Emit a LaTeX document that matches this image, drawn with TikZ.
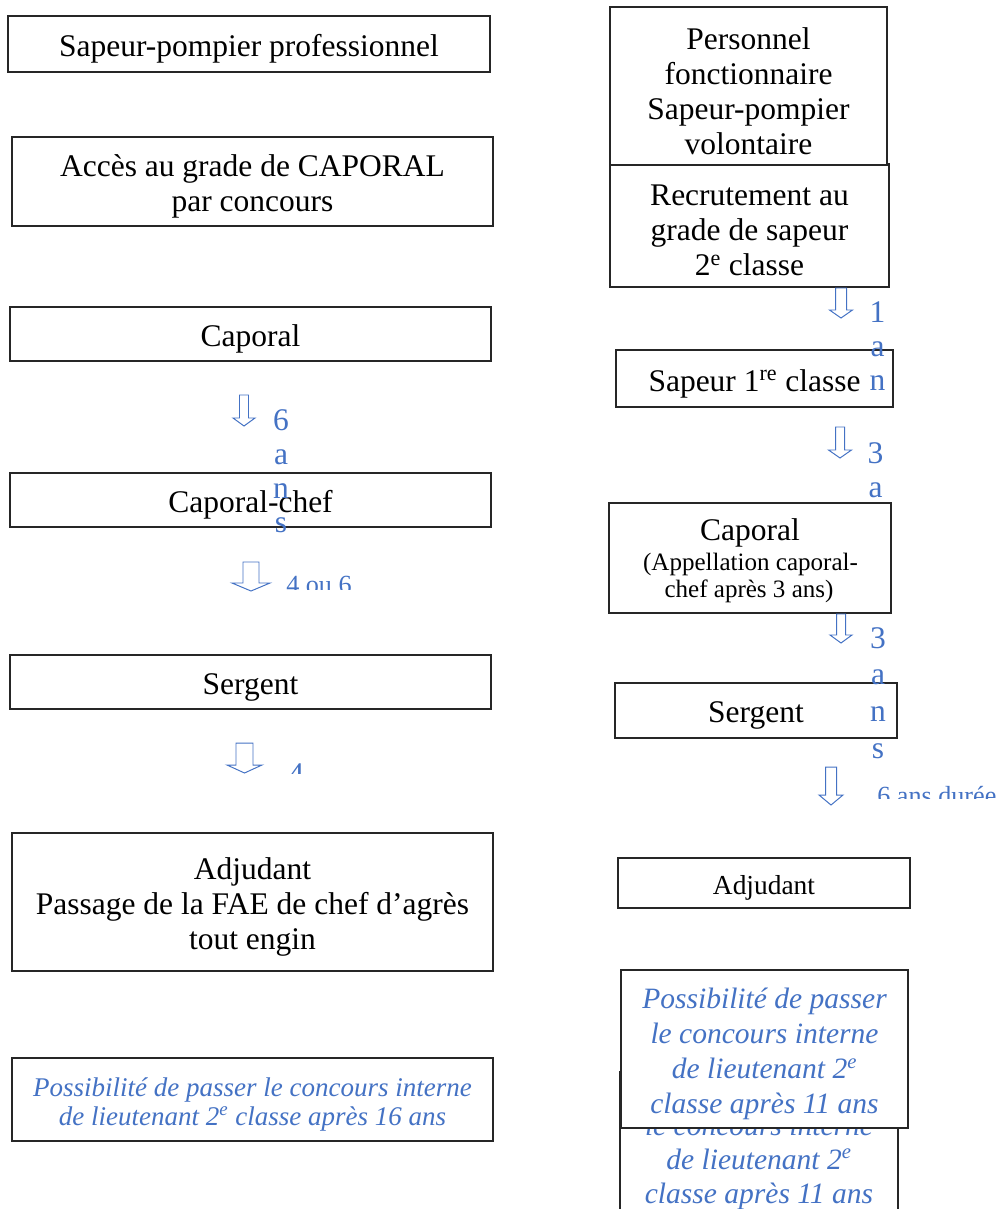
\documentclass[tikz,border=0pt]{standalone}
\usepackage{fontspec}
\setmainfont{Liberation Serif}
\definecolor{lblue}{HTML}{4472C4}
\newcommand\mainsz{\fontsize{22.4}{24.9}\selectfont}
\newcommand\smallsz{\fontsize{17.8}{19.2}\selectfont}
\newcommand\adjsz{\fontsize{19.5}{22}\selectfont}
\newcommand\clipsz{\fontsize{18.6}{21}\selectfont}
\newcommand\itleft{\fontsize{19.2}{21.3}\selectfont\itshape}
\newcommand\itright{\fontsize{21}{24.9}\selectfont\itshape}
\def\pxu{0.025cm}
% box with its text: {box style}{text style}{name}{cx}{cy}{w}{h}{text}
\newcommand\tbox[8]{%
  \node[#1, minimum width=#6*\pxu, minimum height=#7*\pxu] (#3) at (#4,#5) {};
  \node[txt, #2] (#3-t) at (#4,#5+5) {#8};}
\newcommand\hollowarrow[6]{%
  \draw[blockarr] (#1-#3,#2) -- (#1+#3,#2) -- (#1+#3,#5) -- (#1+#4,#5) -- (#1,#6)
    -- (#1-#4,#5) -- (#1-#3,#5) -- cycle;}
\begin{document}
\begin{tikzpicture}[x=0.025cm,y=-0.025cm,
  box/.style={draw=black!85, line width=0.75pt, fill=white, inner sep=0pt},
  thickbox/.style={box, line width=1.4pt},
  txt/.style={inner sep=0pt, align=center, font=\mainsz},
  lbl/.style={text=lblue, inner sep=0pt, font=\mainsz},
  plain/.style={inner sep=0pt, font=\mainsz},
  blockarr/.style={draw=lblue, line width=0.7pt, fill=white, line join=miter},
]
\useasboundingbox (0,0) rectangle (1000,1209);
\clip (0,0) rectangle (1000,1209);

% ---------- left column ----------
\tbox{thickbox}{}{l1}{249}{44}{482}{56}{Sapeur-pompier professionnel}
\tbox{box}{}{l2}{252.5}{181.5}{481}{89}{Accès au grade de CAPORAL\\par concours}
\tbox{box}{}{l3}{250.5}{334}{481}{54}{Caporal}
\tbox{box}{}{l4}{250.5}{500}{481}{54}{Caporal-chef}
\tbox{box}{}{l5}{250.5}{682}{481}{54}{Sergent}
\tbox{box}{}{l6}{252.5}{902}{481}{138}{Adjudant\\Passage de la FAE de chef d’agrès\\tout engin}
\tbox{box}{font=\itleft, text=lblue}{l7}{252.5}{1099.5}{481}{83}{Possibilité de passer le concours interne\\de lieutenant 2\textsuperscript{e} classe après 16 ans}

% ---------- right column ----------
\tbox{box}{}{r2}{749.5}{225.5}{279}{123}{Recrutement au\\grade de sapeur\\2\textsuperscript{e} classe}
\tbox{thickbox}{}{r1}{748.5}{86}{277}{158}{Personnel\\fonctionnaire\\Sapeur-pompier\\volontaire}
\tbox{box}{}{r3}{754.5}{378.5}{277}{57}{Sapeur 1\textsuperscript{re} classe}

% label hidden behind the caporal box
\foreach \ch [count=\i] in {3,a,n,s}
  \node[lbl, anchor=base] (t5-\i) at (875.5,{463+34*(\i-1)}) {\ch};

\node[box, minimum width=282*\pxu, minimum height=110*\pxu] (r4) at (750,558) {};
\node[plain, anchor=base] (r4a) at (750,540) {Caporal};
\node[plain, font=\smallsz, anchor=base] (r4b) at (750.5,570) {(Appellation caporal-};
\node[plain, font=\smallsz, anchor=base] (r4c) at (749,597) {chef après 3 ans)};

\tbox{box}{}{r5}{756}{710.5}{282}{55}{Sergent}
\tbox{box}{font=\adjsz}{r6}{764}{883}{292}{50}{Adjudant}

% back (overlapped) box
\node[box, minimum width=278*\pxu, minimum height=148*\pxu] (r7b) at (759,1146) {};
\node[plain, font=\itright, text=lblue, anchor=base] (r7b1) at (759,1100) {Possibilité de passer};
\node[plain, font=\itright, text=lblue, anchor=base] (r7b2) at (759,1135) {le concours interne};
\node[plain, font=\itright, text=lblue, anchor=base] (r7b3) at (759,1169) {de lieutenant 2\textsuperscript{e}};
\node[plain, font=\itright, text=lblue, anchor=base] (r7b4) at (759,1203) {classe après 11 ans};
% front box
\tbox{box}{font=\itright, text=lblue}{r7}{764.5}{1049}{287}{158}{Possibilité de passer\\le concours interne\\de lieutenant 2\textsuperscript{e}\\classe après 11 ans}

% ---------- block arrows ----------
\hollowarrow{244}{395}{4.5}{11}{418}{426}
\hollowarrow{251}{562}{8}{19}{583}{591}
\hollowarrow{244.5}{743}{8.5}{17.5}{765}{773}
\hollowarrow{841}{288}{5.5}{11.5}{310}{318}
\hollowarrow{840}{427}{4.5}{11.5}{450}{458}
\hollowarrow{841}{614}{4.5}{11}{635}{643}
\hollowarrow{831}{767}{5.5}{12}{795}{805}

% ---------- duration labels ----------
\foreach \ch [count=\i] in {6,a,n,s}
  \node[lbl, anchor=base] (t1-\i) at (281,{430+34*(\i-1)}) {\ch};
\foreach \ch [count=\i] in {1,a,n}
  \node[lbl, anchor=base] (t4-\i) at (877.5,{322+34*(\i-1)}) {\ch};
\foreach \ch [count=\i] in {3,a,n,s}
  \node[lbl, anchor=base] (t6-\i) at (878,{648+36.7*(\i-1)}) {\ch};

\begin{scope}
  \clip (270,560) rectangle (400,589);
  \node[lbl, font=\clipsz, anchor=base west] (t2) at (286,593) {4 ou 6};
\end{scope}
\begin{scope}
  \clip (270,750) rectangle (400,773);
  \node[lbl, anchor=base west] (t3) at (288,784) {4};
\end{scope}
\begin{scope}
  \clip (860,770) rectangle (1000,798);
  \node[lbl, font=\clipsz, anchor=base west] (t7) at (877,804) {6 ans durée};
\end{scope}
\end{tikzpicture}
\end{document}
